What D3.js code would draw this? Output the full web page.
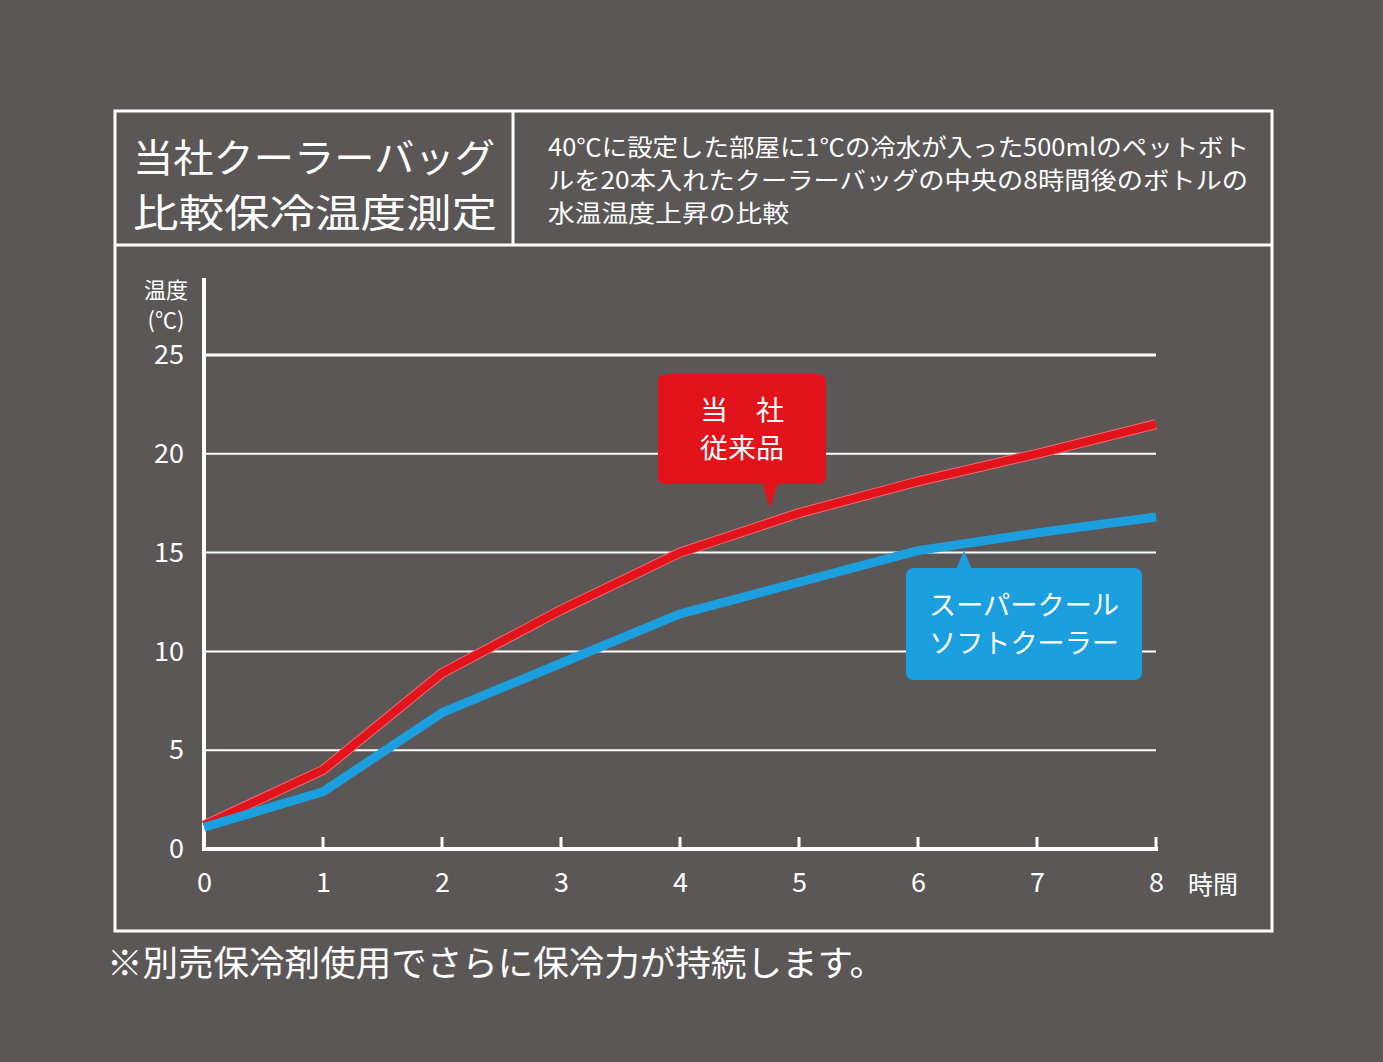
<!DOCTYPE html>
<html>
<head>
<meta charset="utf-8">
<script src="https://cdn.jsdelivr.net/npm/d3@7"></script>
<style>
  html, body { margin: 0; padding: 0; background: #5b5756; }
  svg { display: block; }
  text { font-family: "Noto Sans CJK JP", "Noto Sans", sans-serif; fill: #fff; }
</style>
</head>
<body>
<svg id="chart" width="1383" height="1062"></svg>
<script>
// data
var hours = [0, 1, 2, 3, 4, 5, 6, 7, 8];
var ourOld = [1.2, 4.0, 8.9, 12.1, 15.0, 17.0, 18.6, 20.0, 21.5];
var superCool = [1.1, 2.9, 6.9, 9.4, 11.9, 13.5, 15.1, 16.0, 16.8];
var yTicks = [0, 5, 10, 15, 20, 25];
var titleLines = ["当社クーラーバッグ", "比較保冷温度測定"];
var noteLines = ["40℃に設定した部屋に1℃の冷水が入った500mlのペットボト",
                 "ルを20本入れたクーラーバッグの中央の8時間後のボトルの",
                 "水温温度上昇の比較"];
var redLabel = ["当　社", "従来品"];
var blueLabel = ["スーパークール", "ソフトクーラー"];

var svg = d3.select("#chart");
var red = "#e3131b", blue = "#1c9fdf";

// frame
svg.append("rect").attr("x", 115).attr("y", 111).attr("width", 1157).attr("height", 820)
  .attr("fill", "none").attr("stroke", "#fff").attr("stroke-width", 3);
svg.append("line").attr("x1", 115).attr("x2", 1272).attr("y1", 245).attr("y2", 245)
  .attr("stroke", "#fff").attr("stroke-width", 3);
svg.append("line").attr("x1", 513).attr("x2", 513).attr("y1", 111).attr("y2", 245)
  .attr("stroke", "#fff").attr("stroke-width", 3);

var titleW = [362, 364];
svg.selectAll(".title").data(titleLines).enter().append("text")
  .attr("x", 133).attr("y", function(d, i) { return 172 + i * 55; })
  .attr("font-size", 39).attr("font-weight", 400)
  .attr("textLength", function(d, i) { return titleW[i]; })
  .attr("lengthAdjust", "spacingAndGlyphs")
  .text(function(d) { return d; });

var noteW = [701, 700, 241];
svg.selectAll(".note").data(noteLines).enter().append("text")
  .attr("x", 548).attr("y", function(d, i) { return 156 + i * 33; })
  .attr("font-size", 24)
  .attr("textLength", function(d, i) { return noteW[i]; })
  .attr("lengthAdjust", "spacingAndGlyphs")
  .text(function(d) { return d; });

// scales
var x = d3.scaleLinear().domain([0, 8]).range([204, 1156]);
var y = d3.scaleLinear().domain([0, 25]).range([849, 355]);

// grid
svg.append("g").selectAll("line").data(yTicks.filter(function(d) { return d > 0; }))
  .enter().append("line")
  .attr("x1", x(0)).attr("x2", x(8))
  .attr("y1", function(d) { return y(d); }).attr("y2", function(d) { return y(d); })
  .attr("stroke", "#fff").attr("stroke-width", function(d) { return d === 25 ? 3 : 2; });

// axes
var yAxis = svg.append("g").attr("transform", "translate(" + x(0) + ",0)")
  .call(d3.axisLeft(y).tickValues(yTicks).tickSize(0).tickPadding(20));
yAxis.select(".domain").remove();
yAxis.selectAll("text").attr("font-size", 27).attr("fill", "#fff")
  .attr("font-family", "'Open Sans', 'Noto Sans CJK JP', sans-serif");

var xAxis = svg.append("g").attr("transform", "translate(0," + y(0) + ")")
  .call(d3.axisBottom(x).tickValues(hours).tickSize(0).tickPadding(24));
xAxis.select(".domain").remove();
xAxis.selectAll("text").attr("font-size", 27).attr("fill", "#fff")
  .attr("font-family", "'Open Sans', 'Noto Sans CJK JP', sans-serif");

svg.append("line").attr("x1", x(0)).attr("x2", x(0)).attr("y1", 278).attr("y2", y(0) + 2)
  .attr("stroke", "#fff").attr("stroke-width", 4);
svg.append("line").attr("x1", x(0) - 2).attr("x2", x(8) + 2).attr("y1", y(0)).attr("y2", y(0))
  .attr("stroke", "#fff").attr("stroke-width", 4);
svg.append("g").selectAll("line").data(hours.filter(function(d) { return d > 0; }))
  .enter().append("line")
  .attr("x1", function(d) { return x(d); }).attr("x2", function(d) { return x(d); })
  .attr("y1", y(0)).attr("y2", y(0) - 12)
  .attr("stroke", "#fff").attr("stroke-width", 3);

svg.append("text").attr("x", 166).attr("y", 298).attr("text-anchor", "middle")
  .attr("font-size", 22).text("温度");
svg.append("text").attr("x", 166).attr("y", 328).attr("text-anchor", "middle")
  .attr("font-size", 22).text("(℃)");
svg.append("text").attr("x", 1188).attr("y", 894).attr("font-size", 25).text("時間");

// lines
var line = d3.line().x(function(d, i) { return x(hours[i]); }).y(function(d) { return y(d); });
svg.append("path").datum(ourOld).attr("d", line).attr("fill", "none")
  .attr("stroke", "#f06a6e").attr("stroke-width", 10).attr("stroke-linejoin", "round");
svg.append("path").datum(ourOld).attr("d", line).attr("fill", "none")
  .attr("stroke", red).attr("stroke-width", 8).attr("stroke-linejoin", "round");
svg.append("path").datum(superCool).attr("d", line).attr("fill", "none")
  .attr("stroke", blue).attr("stroke-width", 9).attr("stroke-linejoin", "round");

// callouts
function callout(bx, by, bw, bh, px, tip, color, lines, fs, gap, tw) {
  var g = svg.append("g");
  g.append("rect").attr("x", bx).attr("y", by).attr("width", bw).attr("height", bh)
    .attr("rx", 7).attr("fill", color);
  var tipUp = tip[1] < by;
  var baseY = tipUp ? by + 1 : by + bh - 1;
  g.append("path").attr("d", "M" + (px - 8) + "," + baseY + "L" + tip[0] + "," + tip[1] +
    "L" + (px + 8) + "," + baseY + "Z").attr("fill", color);
  g.selectAll("text").data(lines).enter().append("text")
    .attr("x", bx + bw / 2).attr("y", function(d, i) { return by + bh / 2 - gap / 2 + i * gap + fs * 0.36; })
    .attr("text-anchor", "middle").attr("font-size", fs)
    .attr("textLength", tw).attr("lengthAdjust", "spacingAndGlyphs")
    .text(function(d) { return d; });
}
callout(658, 374, 168, 110, 770, [770, 508], red, redLabel, 27, 38, 84);
callout(906, 568, 236, 112, 964, [964, 551], blue, blueLabel, 27, 38, 190);

// footnote
svg.append("text").attr("x", 107).attr("y", 976).attr("font-size", 35)
  .attr("textLength", 778).attr("lengthAdjust", "spacingAndGlyphs")
  .text("※別売保冷剤使用でさらに保冷力が持続します。");
</script>
</body>
</html>
